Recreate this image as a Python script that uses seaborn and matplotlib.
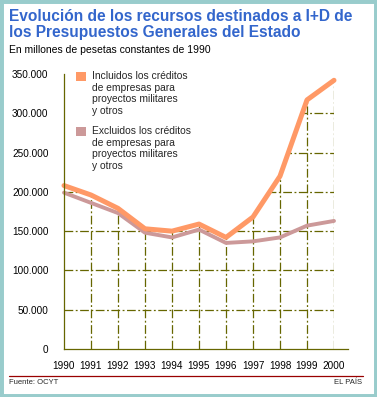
import numpy as np
import pandas as pd
import seaborn as sns
import matplotlib.pyplot as plt
import matplotlib.patches as mpatches
from matplotlib.ticker import FuncFormatter

years = list(range(1990, 2001))
incluidos = [208000, 196000, 179000, 153000, 150000, 159000, 142000, 168000, 220000, 317000, 342000]
excluidos = [199000, 186000, 173000, 148000, 142000, 152000, 135000, 137000, 142000, 157000, 163000]
y_ticks = [0, 50000, 100000, 150000, 200000, 250000, 300000, 350000]

title = "Evolución de los recursos destinados a I+D de\nlos Presupuestos Generales del Estado"
subtitle = "En millones de pesetas constantes de 1990"
lab_incl = "Incluidos los créditos\nde empresas para\nproyectos militares\ny otros"
lab_excl = "Excluidos los créditos\nde empresas para\nproyectos militares\ny otros"

df = pd.DataFrame({
    "año": years * 2,
    "valor": incluidos + excluidos,
    "serie": ["Incluidos"] * len(years) + ["Excluidos"] * len(years),
})

sns.set_style("white")
plt.rcParams["font.family"] = ["Liberation Sans", "DejaVu Sans"]

olive = "#666600"
orange = "#FF9966"
pink = "#CC9999"
blue = "#3366CC"
teal = "#99CCCC"

W, H = 377, 397
fig = plt.figure(figsize=(W / 100, H / 100), dpi=100)
fig.patch.set_facecolor("white")

def fx(px):
    return px / W

def fy(py):
    return 1 - py / H

ax = fig.add_axes([fx(64), fy(349), fx(348 - 64), 275 / H])
ax.set_facecolor("none")

# grid clipped to the area under the upper curve
verts = np.column_stack([years + [years[-1], years[0]], incluidos + [0, 0]])
clip = mpatches.Polygon(verts, closed=True, transform=ax.transData)
dash = (0, (7, 2, 1.5, 2))
vl = ax.vlines(years[1:], 0, 350000, colors=olive, linewidth=0.9, linestyles=[dash])
hl = ax.hlines(y_ticks[1:], years[0], years[-1], colors=olive, linewidth=0.9, linestyles=[dash])
vl.set_clip_path(clip)
hl.set_clip_path(clip)

sns.lineplot(data=df[df["serie"] == "Excluidos"], x="año", y="valor", color=pink,
             linewidth=2.8, ax=ax, legend=False, clip_on=False)
sns.lineplot(data=df[df["serie"] == "Incluidos"], x="año", y="valor", color=orange,
             linewidth=3.6, ax=ax, legend=False, clip_on=False)

ax.set_xlim(1990, 2000 + 14 / 27)
ax.set_ylim(0, 350000)
ax.set_xticks(years)
ax.set_yticks(y_ticks)
ax.yaxis.set_major_formatter(FuncFormatter(lambda v, p: f"{v:,.0f}".replace(",", ".")))
ax.set_xlabel("")
ax.set_ylabel("")
for s in ["top", "right"]:
    ax.spines[s].set_visible(False)
for s in ["left", "bottom"]:
    ax.spines[s].set_color(olive)
    ax.spines[s].set_linewidth(0.9)
ax.tick_params(axis="y", direction="out", length=8.6, width=0.9, color=olive,
               pad=2.5, labelsize=7.2, labelcolor="black")
ax.tick_params(axis="x", direction="out", length=3.6, width=0.9, color=olive,
               pad=5, labelsize=7.2, labelcolor="black")

# titles
fig.text(fx(9), fy(9), title, color=blue, fontsize=11.2, fontweight="bold",
         va="top", ha="left", linespacing=1.12)
fig.text(fx(9), fy(50), subtitle, color="black", fontsize=7.5, va="center", ha="left")

# legend
fig.patches.append(mpatches.Rectangle((fx(76), fy(81)), fx(10), 9 / H, transform=fig.transFigure,
                                      facecolor=orange, edgecolor="none"))
fig.patches.append(mpatches.Rectangle((fx(76), fy(136)), fx(10), 9 / H, transform=fig.transFigure,
                                      facecolor=pink, edgecolor="none"))
fig.text(fx(92), fy(71), lab_incl, fontsize=7.4, va="top", ha="left", linespacing=1.2)
fig.text(fx(92), fy(126), lab_excl, fontsize=7.4, va="top", ha="left", linespacing=1.2)

# footer
fig.add_artist(plt.Line2D([fx(9), fx(363)], [fy(376), fy(376)], color="#990000",
                          linewidth=0.9, transform=fig.transFigure))
fig.text(fx(9), fy(383), "Fuente: OCYT", fontsize=5.5, va="center", ha="left")
fig.text(fx(362), fy(383), "EL PAÍS", fontsize=5.5, va="center", ha="right")

# border
fig.patches.append(mpatches.Rectangle((0, 0), 1, 1, transform=fig.transFigure,
                                      facecolor="none", edgecolor=teal, linewidth=5))

fig.savefig("out.png", dpi=100)
